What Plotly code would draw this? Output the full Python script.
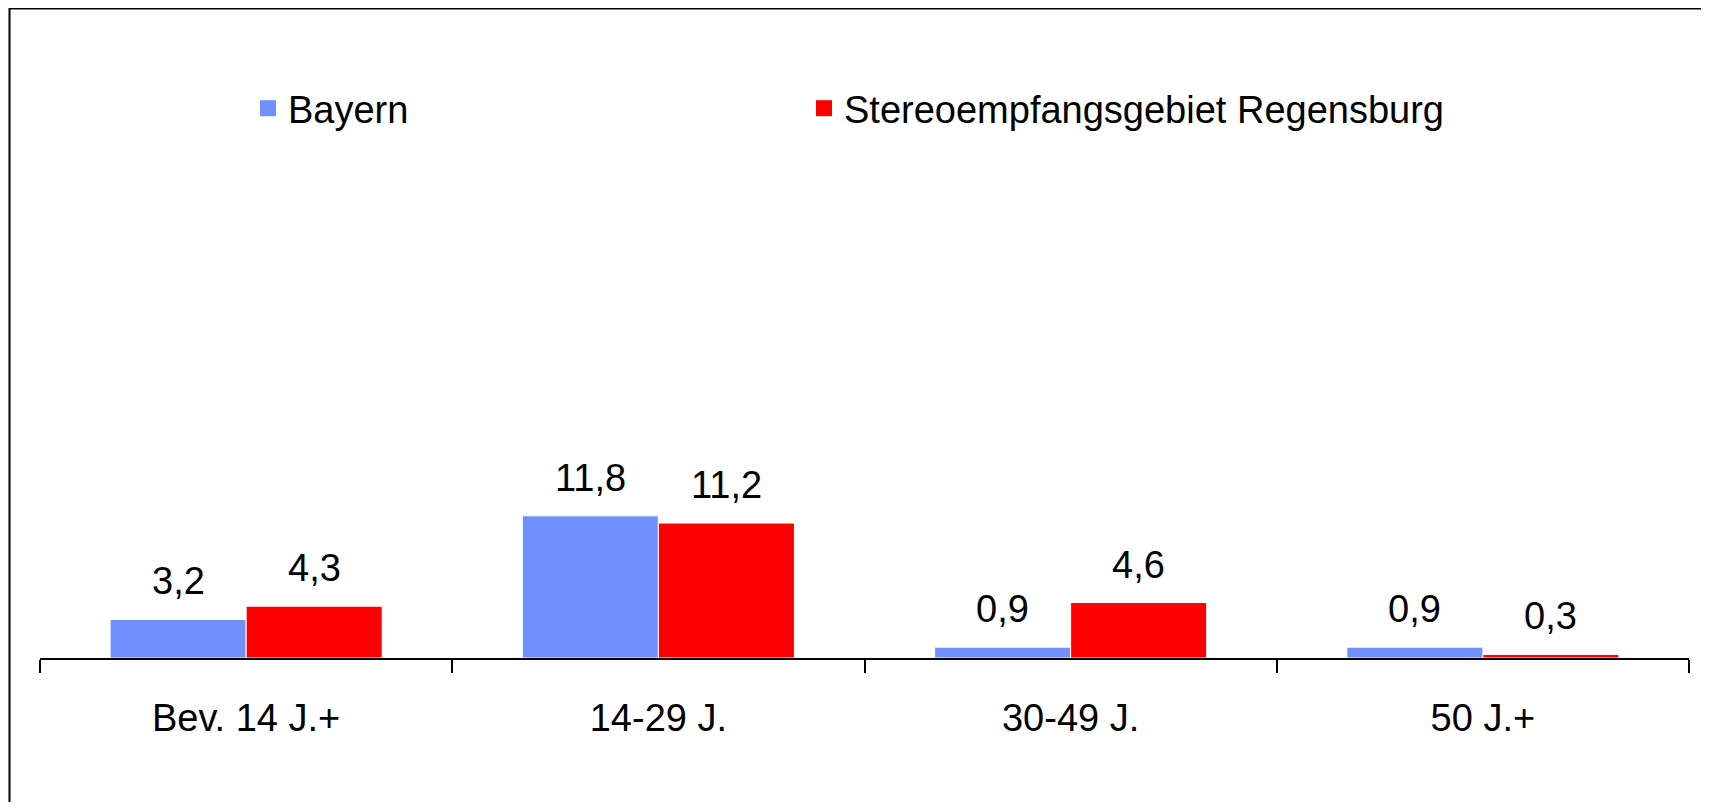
import plotly.graph_objects as go

categories = ["Bev. 14 J.+", "14-29 J.", "30-49 J.", "50 J.+"]
bayern = [3.2, 11.8, 0.9, 0.9]
regensburg = [4.3, 11.2, 4.6, 0.3]
series_names = ["Bayern", "Stereoempfangsgebiet Regensburg"]
series_values = [bayern, regensburg]
colors = ["#7090FF", "#FF0000"]

W, H = 1693, 794
ML, MR, MT, MB = 32, 12, 168, 144
YMAX = 40
BARGAP = 0.34
FONT = "Liberation Sans, Arial, sans-serif"
FS = 38

fig = go.Figure()
for k, (name, vals, col) in enumerate(zip(series_names, series_values, colors)):
    fig.add_trace(go.Bar(
        name=name, x=categories, y=vals, legendgroup=name, showlegend=False,
        marker=dict(color=col, line=dict(color="white", width=1)),
    ))
# legend entries with larger square swatches
for k, (name, col) in enumerate(zip(series_names, colors)):
    fig.add_trace(go.Scatter(
        name=name, x=[None], y=[None], mode="markers", legendgroup=name,
        marker=dict(symbol="square", size=16, color=col, line=dict(width=0)),
        legendwidth=511 if k == 0 else None, hoverinfo="skip",
    ))

plot_w = W - ML - MR
cat_w = plot_w / len(categories)
bar_w = (1 - BARGAP) / 2 * cat_w
annotations = []
for i, vals in enumerate(series_values):
    for cat, v in zip(categories, vals):
        annotations.append(dict(
            x=cat, y=v, xref="x", yref="y",
            text=f"{v:.1f}".replace(".", ","),
            showarrow=False, yanchor="bottom",
            xshift=(i - 0.5) * bar_w, yshift=15,
            font=dict(family=FONT, size=FS, color="black"),
        ))

fig.update_layout(
    width=W, height=H,
    margin=dict(l=ML, r=MR, t=MT, b=MB, pad=0),
    paper_bgcolor="white", plot_bgcolor="white",
    barmode="group", bargap=BARGAP, bargroupgap=0,
    font=dict(family=FONT, size=FS, color="black"),
    showlegend=True,
    legend=dict(
        orientation="h", xref="container", yref="container",
        x=240 / W, y=1 - 100.5 / H, xanchor="left", yanchor="middle",
        font=dict(family=FONT, size=FS, color="black"),
        bgcolor="rgba(0,0,0,0)", itemclick=False, itemdoubleclick=False,
    ),
    annotations=annotations,
    xaxis=dict(
        type="category", categoryorder="array", categoryarray=categories,
        showline=True, linecolor="black", linewidth=1.5,
        ticks="outside", tickson="boundaries", ticklen=13, tickwidth=1.5, tickcolor="black",
        ticklabelstandoff=26,
        showgrid=False, zeroline=False,
        tickfont=dict(family=FONT, size=FS, color="black"),
    ),
    yaxis=dict(
        range=[0, YMAX], visible=False, showgrid=False, zeroline=False,
    ),
    shapes=[dict(
        type="rect", xref="paper", yref="paper",
        x0=(1.5 - ML) / plot_w, x1=(W + 20 - ML) / plot_w,
        y0=-0.4, y1=(H - MB - 0.5) / (H - MT - MB),
        line=dict(color="black", width=2), fillcolor="rgba(0,0,0,0)", layer="above",
    )],
)

fig.write_html("out.html")
